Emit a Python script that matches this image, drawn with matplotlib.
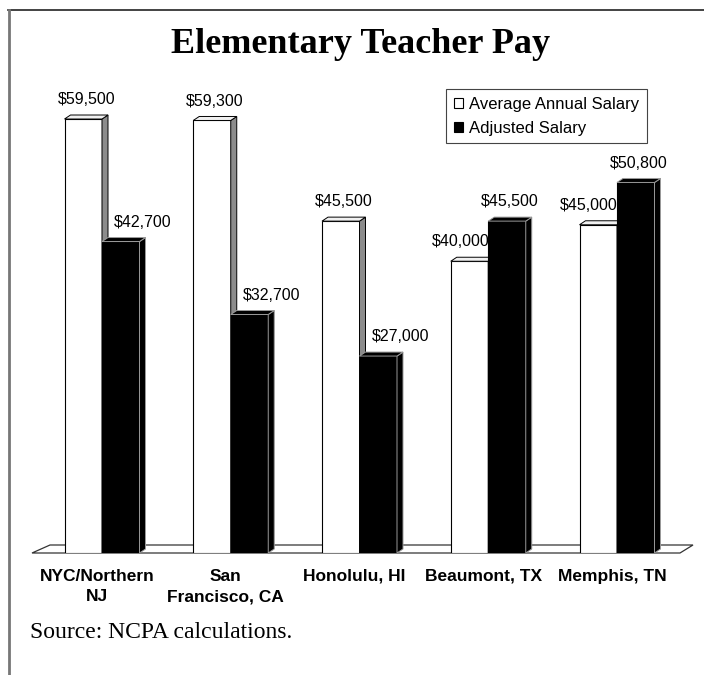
import matplotlib
matplotlib.use('Agg')
import matplotlib.pyplot as plt
from matplotlib.patches import Polygon
from matplotlib.lines import Line2D
import numpy as np

# ---------------- data ----------------
categories = ["NYC/Northern\nNJ", "San\nFrancisco, CA", "Honolulu, HI", "Beaumont, TX", "Memphis, TN"]
average_salary = [59500, 59300, 45500, 40000, 45000]
adjusted_salary = [42700, 32700, 27000, 45500, 50800]
series_names = ["Average Annual Salary", "Adjusted Salary"]
title = "Elementary Teacher Pay"
source = "Source: NCPA calculations."

# ---------------- layout (pixels) ----------------
W, H = 704, 675
fig = plt.figure(figsize=(W / 100, H / 100), dpi=100)
fig.patch.set_facecolor('white')

ax_left, ax_right, ax_bottom, ax_top = 32, 693, 553, 90
ax = fig.add_axes([ax_left / W, (H - ax_bottom) / H,
                   (ax_right - ax_left) / W, (ax_bottom - ax_top) / H])
px_per_unit_y = 0.007294
group_px = 128.75
first_px = 102
ax.set_ylim(0, (ax_bottom - ax_top) / px_per_unit_y)
ax.set_xlim((ax_left - first_px) / group_px, (ax_right - first_px) / group_px)
for s in ax.spines.values():
    s.set_visible(False)
ax.set_yticks([])

sans = ['Liberation Sans', 'DejaVu Sans']
serif = ['Liberation Serif', 'DejaVu Serif']

x = np.arange(len(categories))
w = 37.5 / group_px
dx = 6 / group_px
dy = 4 / px_per_unit_y

# floor
floor = Polygon([(0, 0), ((680 - ax_left) / (ax_right - ax_left), 0),
                 (1, 8 / (ax_bottom - ax_top)), ((50 - ax_left) / (ax_right - ax_left), 8 / (ax_bottom - ax_top))],
                closed=True, transform=ax.transAxes, facecolor='white', edgecolor='#333333',
                lw=0.9, zorder=1, clip_on=False)
ax.add_patch(floor)

bars_avg = ax.bar(x - w / 2, average_salary, w, color='white', edgecolor='black',
                  lw=0.8, zorder=3, label=series_names[0])
bars_adj = ax.bar(x + w / 2, adjusted_salary, w, color='black', edgecolor='black',
                  lw=0.8, zorder=5, label=series_names[1])


def add_depth(bars, side_color, top_color, edge, z):
    for b in bars:
        l = b.get_x()
        r = l + b.get_width()
        v = b.get_height()
        side = Polygon([(r, 0), (r + dx, dy), (r + dx, v + dy), (r, v)], closed=True,
                       facecolor=side_color, edgecolor=edge, lw=0.7, zorder=z)
        top = Polygon([(l, v), (l + dx, v + dy), (r + dx, v + dy), (r, v)], closed=True,
                      facecolor=top_color, edgecolor=edge, lw=0.7, zorder=z)
        ax.add_patch(side)
        ax.add_patch(top)


add_depth(bars_avg, '#8c8c8c', '#f0f0f0', 'black', 3.1)
add_depth(bars_adj, 'black', 'black', '#9a9a9a', 5.1)

# value labels
px2pt = 72 / 100
for i in range(len(categories)):
    a, b = average_salary[i], adjusted_salary[i]
    ca = bars_avg[i].get_x() + w / 2 + dx / 2
    cb = bars_adj[i].get_x() + w / 2 + dx / 2
    off_a = 0 if a >= b else -12
    off_b = 0 if b >= a else 19
    for val, cx, off in ((a, ca, off_a), (b, cb, off_b)):
        ax.annotate(f"${val:,}", xy=(cx, val), xytext=(off * px2pt, 8.5),
                    textcoords='offset points', ha='center', va='bottom',
                    fontsize=11.5, family=sans, zorder=10)

# category labels
ax.set_xticks(x - 5 / group_px)
ax.set_xticklabels(categories, fontsize=12.5, fontweight='bold', family=sans,
                   linespacing=1.42)
ax.tick_params(axis='x', length=0, pad=11.5)

# legend
leg = ax.legend(handles=[bars_avg, bars_adj], loc='upper left',
                bbox_to_anchor=(446 / W, (H - 89) / H), bbox_transform=fig.transFigure,
                prop={'family': sans, 'size': 12}, handlelength=0.55, handleheight=0.55,
                handletextpad=0.4, borderpad=0.45, labelspacing=0.55, borderaxespad=0,
                fancybox=False, framealpha=1, edgecolor='#444444')
leg.get_frame().set_linewidth(0.8)

# title and source
fig.text(361 / W, (H - 53) / H, title, ha='center', va='baseline', fontsize=26,
         fontweight='bold', family=serif)
fig.text(30 / W, (H - 632) / H, source, ha='left', va='center', fontsize=17, family=serif)

# frame lines
fig.add_artist(Line2D([8 / W, 1], [(H - 9.5) / H] * 2, color='#222222', lw=1.2))
fig.add_artist(Line2D([8.5 / W] * 2, [0, (H - 9.5) / H], color='#777777', lw=2))

fig.savefig('out.png', dpi=100, facecolor='white')
